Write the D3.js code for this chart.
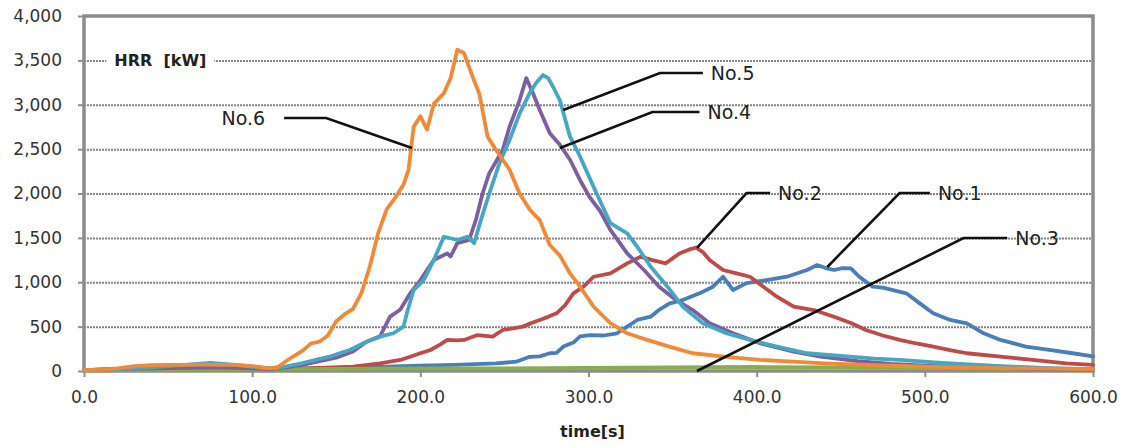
<!DOCTYPE html>
<html>
<head>
<meta charset="utf-8">
<script src="https://cdn.jsdelivr.net/npm/d3@7"></script>
<style>
  body { margin: 0; background: #fff; }
  svg { display: block; font-family: "DejaVu Sans", sans-serif; }
</style>
</head>
<body>
<div id="chart"></div>
<script>
// HRR curves, [time s, HRR kW]
const no1 = [[0,10],[20,20],[40,35],[60,45],[80,40],[100,30],[120,25],[140,30],[160,40],[180,50],[200,60],[220,70],[245,85],[257,105],[265,160],[271,165],[277,200],[281,205],[285,275],[291,320],[295,390],[301,405],[309,400],[317,425],[323,500],[329,575],[337,612],[342,690],[348,760],[356,800],[366,875],[374,950],[380,1062],[386,912],[394,990],[406,1025],[418,1062],[430,1138],[436,1194],[441,1160],[446,1138],[451,1160],[456,1157],[461,1062],[469,950],[475,940],[481,912],[489,875],[497,762],[505,650],[515,575],[525,537],[535,425],[545,350],[560,275],[574,237],[588,200],[600,165]];
const no2 = [[0,10],[20,20],[40,25],[60,30],[80,30],[100,25],[120,25],[140,35],[160,50],[176,87],[188,124],[194,161],[200,200],[206,237],[212,300],[216,350],[222,345],[226,350],[234,405],[243,387],[249,462],[255,480],[261,500],[266,540],[271,575],[276,610],[281,650],[286,740],[291,875],[297,950],[303,1062],[313,1100],[323,1213],[331,1288],[338,1250],[346,1213],[354,1325],[360,1370],[364,1390],[368,1340],[372,1250],[380,1138],[388,1100],[396,1062],[404,950],[412,837],[422,725],[434,687],[446,612],[456,540],[465,462],[475,400],[485,350],[495,310],[505,275],[515,235],[525,200],[545,161],[564,125],[584,87],[600,68]];
const no3 = [[0,5],[50,15],[100,20],[150,25],[200,30],[250,30],[300,35],[350,40],[400,45],[450,40],[500,35],[550,25],[600,20]];
const no4 = [[0,10],[20,20],[40,30],[60,35],[80,40],[100,30],[110,20],[120,40],[130,70],[140,110],[150,150],[160,220],[168,330],[176,390],[182,612],[188,690],[194,875],[200,1025],[208,1250],[216,1325],[218,1290],[222,1440],[229,1476],[233,1700],[237,2000],[241,2230],[249,2490],[253,2750],[259,3050],[263,3300],[267,3130],[271,2940],[277,2680],[283,2550],[289,2380],[295,2150],[301,1950],[307,1800],[313,1590],[323,1325],[333,1138],[342,950],[352,800],[362,687],[372,537],[386,425],[402,312],[422,218],[438,161],[460,110],[480,80],[500,60],[530,40],[560,25],[600,15]];
const no5 = [[0,10],[20,20],[40,40],[60,70],[75,90],[90,70],[100,50],[110,30],[119,48],[130,90],[139,130],[146,161],[152,200],[158,237],[168,330],[176,387],[184,425],[190,500],[192,650],[196,912],[202,1025],[208,1250],[214,1513],[222,1476],[228,1513],[232,1440],[236,1700],[241,2000],[247,2340],[253,2600],[259,2900],[265,3130],[269,3250],[273,3335],[276,3300],[279,3200],[283,3050],[289,2640],[295,2415],[303,2077],[313,1665],[323,1550],[329,1400],[337,1175],[347,950],[356,725],[368,537],[382,425],[396,350],[412,275],[430,200],[450,170],[470,140],[485,125],[510,90],[540,60],[570,35],[600,20]];
const no6 = [[0,10],[10,15],[20,30],[30,55],[40,65],[50,70],[60,70],[70,72],[80,70],[90,68],[100,55],[110,30],[115,40],[120,110],[125,170],[130,230],[135,310],[140,330],[145,400],[150,560],[155,640],[160,700],[165,880],[170,1180],[175,1560],[180,1820],[185,1950],[190,2100],[193,2270],[196,2750],[200,2870],[204,2720],[208,3010],[214,3130],[218,3300],[222,3620],[226,3580],[231,3320],[235,3130],[240,2640],[245,2490],[253,2270],[259,2000],[265,1820],[271,1700],[277,1420],[283,1300],[289,1100],[295,950],[303,725],[313,540],[323,425],[335,350],[348,275],[362,200],[382,160],[402,125],[422,105],[440,87],[470,65],[500,50],[550,30],[600,20]];

const seriesNames = ["No.1", "No.2", "No.3", "No.4", "No.5", "No.6"];
const seriesData = [no1, no2, no3, no4, no5, no6];
const seriesColors = ["#4A7EBB", "#BE4B48", "#86AE4A", "#7D5FA0", "#45A7C2", "#F08A36"];

const xTicks = [0, 100, 200, 300, 400, 500, 600];
const yTicks = [0, 500, 1000, 1500, 2000, 2500, 3000, 3500, 4000];
const gridTicks = [500, 1000, 1500, 2000, 2500, 3000, 3500];

// label leader lines: point on curve, elbow, end (data units)
const leaderNames = ["No.6", "No.5", "No.4", "No.2", "No.1", "No.3"];
const leaderAnchor = [[195,2513],[285,2940],[283,2513],[364.5,1386],[442,1172],[364.5,0]];
const leaderElbow = [[144,2850],[342.5,3357],[338,2918],[394,2005],[485,2005],[523,1498]];
const leaderEnd = [[119,2850],[368,3357],[366,2918],[408,2005],[503,2005],[549,1498]];

const margin = {top: 16, right: 32, bottom: 75, left: 84};
const width = 1125 - margin.left - margin.right;
const height = 446 - margin.top - margin.bottom;

const svg = d3.select("#chart").append("svg")
    .attr("width", 1125)
    .attr("height", 446)
    .append("g")
    .attr("transform", `translate(${margin.left}, ${margin.top})`);

const x = d3.scaleLinear().domain([0, 600]).range([0, width]);
const y = d3.scaleLinear().domain([0, 4000]).range([height, 0]);

// gridlines as a y axis with full-width ticks
const gridAxis = d3.axisLeft(y).tickValues(gridTicks).tickSize(-width).tickFormat("");
const gridGroup = svg.append("g").attr("class", "grid").call(gridAxis);
gridGroup.select(".domain").remove();
gridGroup.selectAll(".tick line")
    .attr("stroke", "#858585")
    .attr("stroke-width", 2)
    .attr("stroke-dasharray", "2 1");

// y axis
const yAxis = d3.axisLeft(y).tickValues(yTicks).tickSize(6).tickPadding(16)
    .tickFormat(d3.format(","));
const yAxisGroup = svg.append("g").call(yAxis);
yAxisGroup.select(".domain").remove();
yAxisGroup.selectAll("line").attr("stroke", "#8f8f8f").attr("stroke-width", 2);
yAxisGroup.selectAll("text")
    .attr("font-size", "17px")
    .attr("fill", "#333")
    .attr("font-family", "DejaVu Sans");

// x axis
const xAxis = d3.axisBottom(x).tickValues(xTicks).tickSize(6).tickPadding(14)
    .tickFormat(d3.format(".1f"));
const xAxisGroup = svg.append("g")
    .attr("transform", `translate(0, ${height})`)
    .call(xAxis);
xAxisGroup.select(".domain").remove();
xAxisGroup.selectAll("line").attr("stroke", "#8f8f8f").attr("stroke-width", 2);
xAxisGroup.selectAll("text")
    .attr("font-size", "17px")
    .attr("fill", "#333")
    .attr("font-family", "DejaVu Sans");

// plot frame
svg.append("rect")
    .attr("x", 0)
    .attr("y", 0)
    .attr("width", width)
    .attr("height", height)
    .attr("fill", "none")
    .attr("stroke", "#8c8c8c")
    .attr("stroke-width", 3.5);

// HRR title inside plot, with white box over the gridline
const titleG = svg.append("g").attr("transform", `translate(${x(18)}, ${y(3500)})`);
titleG.append("rect")
    .attr("x", -8).attr("y", -12).attr("width", 108).attr("height", 24)
    .attr("fill", "#fff");
titleG.append("text")
    .attr("x", 0)
    .attr("dy", "0.36em")
    .attr("font-size", "16px")
    .attr("font-weight", "bold")
    .attr("fill", "#222")
    .style("white-space", "pre")
    .text("HRR  [kW]");

// curves
const line = d3.line()
    .x(d => x(d[0]))
    .y(d => y(d[1]));

svg.append("g")
    .selectAll("path")
    .data(seriesData)
    .join("path")
    .attr("d", line)
    .attr("fill", "none")
    .attr("stroke", (d, i) => seriesColors[i])
    .attr("stroke-width", 3.8)
    .attr("stroke-linejoin", "round")
    .attr("stroke-linecap", "round");

// leader lines and labels
const leaders = svg.append("g");
leaderNames.forEach((name, i) => {
    const pts = [leaderAnchor[i], leaderElbow[i], leaderEnd[i]];
    leaders.append("path")
        .attr("d", line(pts))
        .attr("fill", "none")
        .attr("stroke", "#111")
        .attr("stroke-width", 2.6);
    const leftSide = leaderEnd[i][0] < leaderElbow[i][0];
    leaders.append("text")
        .attr("x", x(leaderEnd[i][0]) + (leftSide ? -19 : 8))
        .attr("y", y(leaderEnd[i][1]))
        .attr("dy", "0.36em")
        .attr("text-anchor", leftSide ? "end" : "start")
        .attr("font-size", "19px")
        .attr("fill", "#222")
        .text(name);
});

// x axis title
svg.append("text")
    .attr("x", width / 2 + 4)
    .attr("y", height + 66)
    .attr("text-anchor", "middle")
    .attr("font-size", "16px")
    .attr("font-weight", "bold")
    .attr("fill", "#222")
    .text("time[s]");
</script>
</body>
</html>
